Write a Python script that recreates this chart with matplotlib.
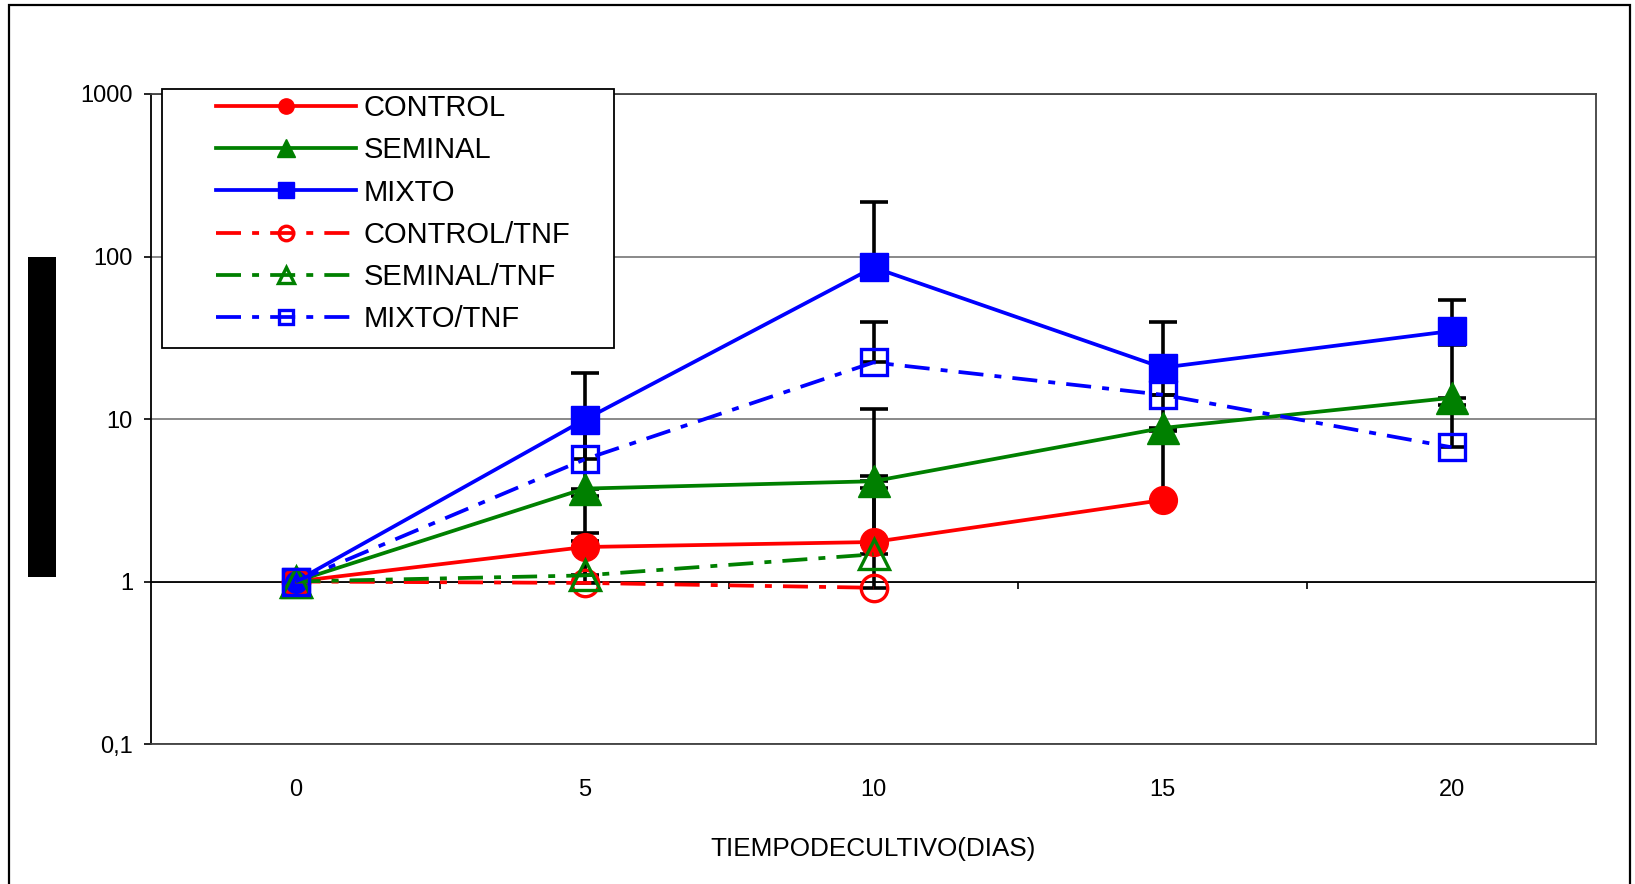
import numpy as np
import matplotlib
matplotlib.use("Agg")
import matplotlib.pyplot as plt
from matplotlib.patches import Rectangle

plt.rcParams['font.family'] = ['Liberation Sans', 'DejaVu Sans']
plt.rcParams['lines.scale_dashes'] = False

# culture days and fold change per group
dias = [0, 5, 10, 15, 20]
nan = np.nan
control = [1, 1.63, 1.75, 3.17, nan]
seminal = [1, 3.73, 4.14, 8.8, 13.5]
mixto = [1, 9.9, 85.7, 20.7, 34.8]
control_tnf = [1, 0.98, 0.915, nan, nan]
seminal_tnf = [1, 1.09, 1.47, nan, nan]
mixto_tnf = [1, 5.64, 22.3, 14.1, 6.7]

# upper error (same units as the values)
err_control = [nan, 1.73, 2.7, 5.3, nan]
err_seminal = [nan, 4.6, 7.4, 5.2, 15.2]
err_mixto = [nan, 9.4, 131, 19.1, 18.9]
err_control_tnf = [nan, 0.8, 0.79, nan, nan]
err_seminal_tnf = [nan, 0.91, 2.3, nan, nan]
err_mixto_tnf = [nan, 5.8, 17.4, 7.3, 5.5]

yticks = [0.1, 1, 10, 100, 1000]
ytick_labels = ['0,1', '1', '10', '100', '1000']

ROJO, VERDE, AZUL = '#FF0000', '#008000', '#0000FF'
dashdot = (0, (18, 8, 5, 8))

series = [
    ('CONTROL', control, err_control, ROJO, 'o', 20, True),
    ('SEMINAL', seminal, err_seminal, VERDE, '^', 23, True),
    ('MIXTO', mixto, err_mixto, AZUL, 's', 20, True),
    ('CONTROL/TNF', control_tnf, err_control_tnf, ROJO, 'o', 19, False),
    ('SEMINAL/TNF', seminal_tnf, err_seminal_tnf, VERDE, '^', 22, False),
    ('MIXTO/TNF', mixto_tnf, err_mixto_tnf, AZUL, 's', 19, False),
]

fig = plt.figure(figsize=(16.35, 8.84), dpi=100)
ax = fig.add_axes([151 / 1635, 140 / 884, 1445 / 1635, 650 / 884])

x = np.array(dias, dtype=float)
for nombre, vals, err, color, mk, ms, lleno in series:
    v = np.array(vals, dtype=float)
    e = np.array(err, dtype=float)
    ok = np.isfinite(e) & np.isfinite(v)
    ax.errorbar(x[ok], v[ok], yerr=[np.zeros(ok.sum()), e[ok]], fmt='none',
                ecolor='black', elinewidth=2.6, capsize=10, capthick=2.6, zorder=1.8)

for i, (nombre, vals, err, color, mk, ms, lleno) in enumerate(series):
    ax.plot(dias, vals, color=color, lw=2.7, ls='-' if lleno else dashdot,
            marker=mk, ms=ms, mfc=color if lleno else 'none', mec=color,
            mew=1.0 if lleno else 2.4, label=nombre, zorder=2 + i * 0.01)

ax.set_yscale('log')
ax.set_ylim(0.1, 1000)
ax.set_xlim(-2.5, 22.5)
ax.set_yticks(yticks, labels=ytick_labels)
ax.minorticks_off()
ax.set_xticks(dias, labels=[str(d) for d in dias])
ax.tick_params(axis='x', length=0, pad=25, labelsize=17)
ax.tick_params(axis='y', direction='out', length=5, width=1.2, pad=8, labelsize=17)
ax.yaxis.grid(True, color='#808080', lw=1.3)
ax.set_axisbelow(True)

for lado in ['top', 'right', 'bottom']:
    ax.spines[lado].set_color('#404040')
    ax.spines[lado].set_linewidth(1.3)
ax.spines['left'].set_color('black')
ax.spines['left'].set_linewidth(1.3)

ax.set_xlabel('TIEMPODECULTIVO(DIAS)', fontsize=18.8, labelpad=26)

# category axis crossing at y = 1, with tick marks between categories
lo, hi = np.log10(ax.get_ylim())
cruce = (np.log10(1) - lo) / (hi - lo)
sec = ax.secondary_xaxis(cruce)
sec.set_xticks([2.5, 7.5, 12.5, 17.5])
sec.tick_params(axis='x', direction='out', length=5, width=1.2, labelbottom=False)
sec.spines['bottom'].set_color('black')
sec.spines['bottom'].set_linewidth(1.3)
sec.set_zorder(1.6)

# legend frame and entries
ax.add_patch(Rectangle((162 / 1635, 1 - 348 / 884), 452 / 1635, 259 / 884,
                       transform=fig.transFigure, facecolor='white',
                       edgecolor='black', lw=1.3, clip_on=False, zorder=4.8))
leg = ax.legend(loc='upper left', bbox_to_anchor=(216 / 1635, 1 - 94 / 884),
                bbox_transform=fig.transFigure, frameon=False, borderpad=0,
                borderaxespad=0, fontsize=21, handlelength=4.8,
                handletextpad=0.25, labelspacing=0.49, markerscale=0.55)
leg.set_zorder(5)

# chart border and the vertical bar on the left
fig.add_artist(Rectangle((9 / 1635, -0.05), 1621 / 1635, 1.05 - 5 / 884,
                         transform=fig.transFigure, fill=False,
                         edgecolor='black', lw=1.6))
fig.add_artist(Rectangle((28 / 1635, 1 - 577 / 884), 28 / 1635, 320 / 884,
                         transform=fig.transFigure, facecolor='black',
                         edgecolor='none'))

fig.savefig('out.png', dpi=100)
